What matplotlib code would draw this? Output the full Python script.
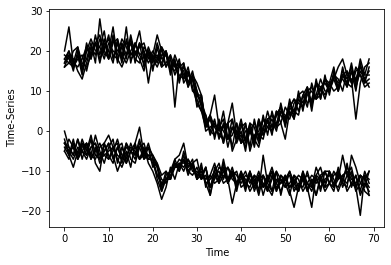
import matplotlib
matplotlib.use("Agg")
import matplotlib.pyplot as plt
import numpy as np

# ------------------ Data ------------------
time = np.arange(70)

# upper cluster: plateau ~20, drop near t=30, slow climb back up
top_series = [
    [20, 26, 17, 21, 15, 22, 18, 24, 19, 23, 18, 24, 17, 22, 19, 23, 17, 22, 16, 20,
     15, 21, 16, 20, 14, 18, 12, 17, 11, 14, 6, 9, 1, 4, -2, 3, -3, 2, -4, 2,
     -3, 2, -4, 3, -2, 4, -1, 5, 1, 7, 2, 8, 3, 10, 5, 11, 6, 13, 8, 14,
     9, 15, 10, 16, 11, 15, 10, 17, 12, 16],
    [17, 19, 18, 15, 13, 17, 21, 19, 23, 20, 18, 22, 23, 19, 17, 20, 22, 19, 17, 21,
     18, 16, 19, 20, 16, 15, 18, 12, 14, 13, 8, 5, 1, 3, -1, 1, 3, -2, -1, 2,
     -3, -2, 2, 1, -3, 3, 1, 0, 4, 6, 3, 7, 5, 4, 9, 11, 7, 9, 13, 10,
     10, 14, 13, 10, 15, 12, 16, 14, 11, 12],
    [16, 19, 15, 20, 16, 18, 22, 17, 28, 20, 24, 18, 22, 17, 23, 19, 21, 25, 18, 20,
     17, 22, 18, 19, 15, 19, 16, 17, 12, 15, 10, 7, 2, 0, 3, -2, 2, -4, 1, -2,
     2, -3, 1, -4, 2, -1, 3, -1, 5, 2, -2, 5, 3, 8, 6, 11, 5, 12, 8, 13,
     10, 14, 11, 15, 13, 16, 12, 18, 14, 18],
    [18, 20, 17, 16, 18, 21, 18, 22, 24, 19, 20, 26, 18, 16, 19, 22, 18, 17, 21, 19,
     16, 18, 21, 19, 15, 17, 16, 15, 11, 14, 12, 9, 2, 4, 1, -1, -2, 2, 3, -2,
     -1, -4, 0, 2, -1, -2, 3, 4, 1, 2, 6, 4, 5, 9, 10, 7, 8, 12, 11, 8,
     12, 13, 10, 14, 12, 11, 15, 16, 13, 11],
    [17, 20, 16, 19, 15, 21, 19, 22, 17, 22, 20, 17, 23, 18, 26, 17, 22, 19, 20, 12,
     19, 17, 21, 16, 18, 14, 17, 13, 16, 11, 7, 5, 4, -1, 2, 0, 5, -2, 3, -3,
     0, -5, 2, -2, 3, 0, 5, 1, 4, 6, 1, 6, 8, 5, 9, 6, 12, 8, 11, 9,
     12, 16, 10, 14, 12, 17, 11, 15, 13, 15],
    [16, 17, 20, 21, 17, 16, 19, 22, 21, 18, 22, 20, 19, 23, 21, 18, 19, 22, 20, 17,
     19, 24, 20, 16, 19, 6, 17, 14, 12, 13, 10, 6, 0, 1, 2, -1, 1, 2, -5, -2,
     1, 2, -5, -1, 0, 3, 2, 1, 5, 4, 2, 6, 8, 7, 6, 10, 11, 8, 9, 13,
     12, 10, 11, 14, 15, 12, 13, 16, 14, 14],
    [18, 17, 16, 19, 14, 20, 23, 20, 21, 25, 18, 23, 20, 21, 18, 24, 19, 21, 22, 18,
     20, 18, 17, 20, 16, 17, 13, 16, 14, 13, 9, 9, 1, 4, 9, 1, -3, 2, 7, -1,
     3, -2, 0, -3, 3, -1, 1, 3, 0, 5, 3, 6, 4, 9, 7, 10, 7, 12, 10, 13,
     11, 14, 12, 13, 11, 15, 13, 14, 12, 13],
    [19, 18, 16, 18, 19, 15, 20, 22, 18, 21, 23, 19, 18, 21, 22, 19, 20, 18, 15, 20,
     18, 19, 16, 17, 19, 16, 14, 13, 15, 10, 9, 7, 4, 0, -1, 2, 0, -2, 1, 0,
     -3, 0, 1, -2, -4, 1, 3, 0, 2, 5, 4, 3, 7, 8, 6, 9, 10, 8, 11, 12,
     10, 13, 16, 18, 14, 13, 3, 12, 16, 17],
]

# lower cluster: around -5, dip at t=22, then flat near -12
bottom_series = [
    [0, -4, -6, -2, -7, -3, -6, -1, -5, -8, -4, -2, -8, -4, -7, -3, -6, -2, -7, -4,
     -9, -8, -14, -10, -12, -7, -10, -5, -9, -7, -12, -9, -13, -16, -9, -12, -8, -13, -10, -14,
     -11, -15, -10, -14, -11, -16, -12, -10, -15, -11, -13, -16, -11, -14, -10, -15, -12, -16, -11, -14,
     -10, -14, -9, -13, -8, -14, -11, -15, -10, -13],
    [-2, -6, -9, -5, -3, -4, -7, -5, -3, -6, -7, -5, -2, -6, -8, -5, -4, -7, -6, -3,
     -7, -12, -15, -11, -10, -8, -9, -7, -10, -11, -9, -12, -11, -14, -12, -9, -10, -13, -11, -10,
     -14, -13, -10, -15, -12, -11, -14, -16, -12, -13, -11, -15, -19, -14, -12, -13, -15, -11, -12, -14,
     -13, -10, -12, -11, -15, -13, -11, -16, -13, -15],
    [-4, -6, -2, -7, -3, -6, -2, -8, -10, -3, -7, -4, -3, -8, -5, -9, -3, -7, -4, -8,
     -10, -13, -17, -14, -9, -12, -8, -10, -7, -9, -12, -8, -14, -11, -8, -12, -9, -13, -10, -15,
     -10, -14, -11, -12, -16, -11, -13, -15, -10, -16, -11, -14, -12, -15, -11, -14, -19, -11, -15, -10,
     -13, -15, -10, -14, -11, -9, -14, -21, -11, -16],
    [-3, -4, -6, -2, -5, -7, -4, -3, -6, -5, -3, -6, -10, -7, -4, -5, -7, -3, -5, -6,
     -6, -9, -12, -13, -10, -7, -6, -3, -9, -8, -11, -10, -13, -12, -10, -13, -11, -12, -18, -13,
     -11, -12, -15, -13, -10, -14, -12, -9, -13, -15, -12, -10, -14, -15, -12, -11, -13, -16, -12, -10,
     -13, -14, -12, -6, -11, -13, -14, -11, -12, -14],
    [-5, -7, -3, -6, -2, -5, -1, -6, -7, -3, -6, -8, -4, -7, -3, -7, -8, -4, -3, -7,
     -7, -9, -15, -12, -10, -9, -9, -6, -10, -8, -7, -12, -9, -16, -11, -13, -7, -12, -9, -13,
     -10, -13, -14, -11, -15, -6, -13, -10, -15, -12, -14, -10, -13, -15, -10, -13, -14, -9, -12, -15,
     -13, -11, -10, -13, -14, -6, -9, -13, -14, -10],
    [-3, -5, -7, -4, -5, -3, -6, -7, -4, -3, -1, -4, -6, -7, -3, -5, -6, -4, -7, -6,
     -8, -11, -13, -12, -11, -9, -8, -9, -7, -10, -10, -12, -9, -14, -11, -10, -13, -12, -10, -11,
     -13, -11, -12, -14, -11, -13, -15, -12, -10, -12, -14, -13, -11, -12, -15, -13, -11, -12, -14, -12,
     -11, -13, -14, -11, -10, -12, -13, -11, -12, -10],
    [-5, -2, -4, -7, -4, -3, -7, -4, -8, -5, -3, -7, -4, -3, -8, -5, -3, 1, -6, -7,
     -7, -11, -13, -12, -12, -8, -10, -7, -11, -8, -12, -11, -9, -14, -10, -8, -12, -9, -12, -13,
     -11, -14, -10, -13, -12, -11, -15, -11, -14, -13, -12, -11, -15, -13, -14, -10, -14, -11, -9, -13,
     -10, -14, -11, -12, -13, -10, -14, -11, -15, -16],
    [-3, -5, -4, -7, -5, -6, -4, -3, -7, -6, -5, -4, -7, -9, -6, -4, -5, -7, -5, -4,
     -6, -8, -11, -10, -12, -9, -7, -8, -8, -9, -11, -10, -12, -11, -13, -12, -10, -9, -11, -13,
     -12, -10, -13, -11, -12, -14, -11, -15, -13, -11, -12, -14, -13, -11, -12, -15, -12, -13, -11, -10,
     -10, -12, -15, -12, -9, -11, -15, -13, -11, -12],
]

# ------------------ Figure ------------------
fig, ax = plt.subplots(figsize=(391 / 72, 265 / 72), dpi=72)
fig.subplots_adjust(left=0.126, right=0.983, top=0.965, bottom=0.145)

for ts in top_series + bottom_series:
    ax.plot(time, ts, "k-")

ax.set_ylim(-23.8, 30.4)
ax.set_xlabel("Time")
ax.set_ylabel("Time-Series")

fig.savefig("out.png", dpi=72)
